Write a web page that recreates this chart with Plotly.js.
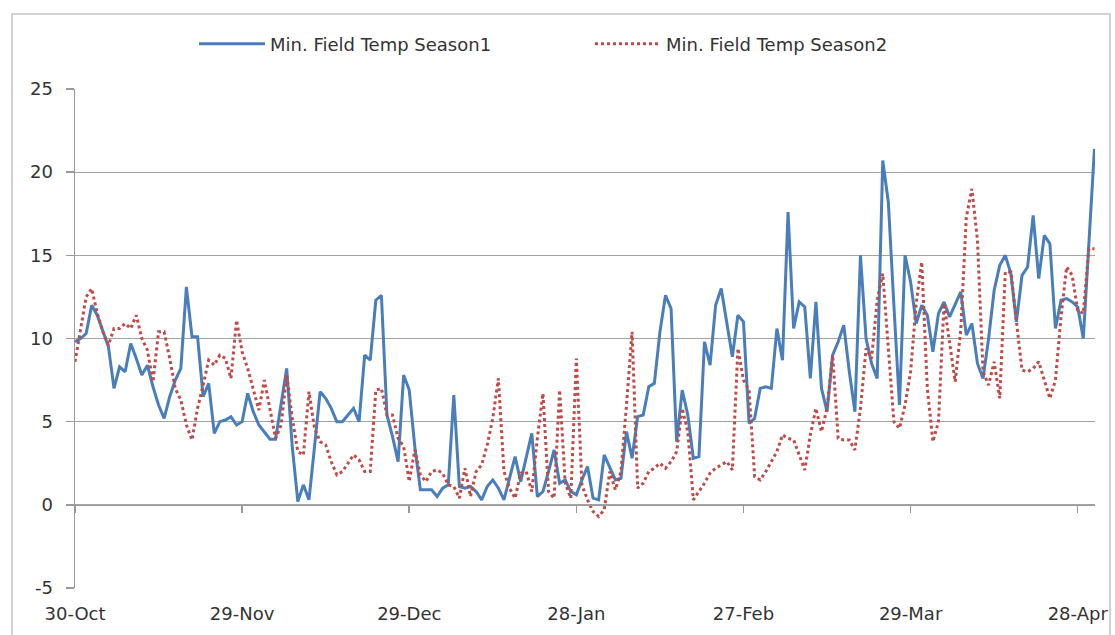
<!DOCTYPE html>
<html>
<head>
<meta charset="utf-8">
<script src="https://cdn.plot.ly/plotly-3.0.1.min.js"></script>
<style>
  html, body { margin: 0; padding: 0; background: #ffffff; }
  #chart { width: 1115px; height: 635px; }
</style>
</head>
<body>
<div id="chart"></div>
<script>
// Daily series, starting 30-Oct (day 0) through 1-May (day 183)
var startDate = '2010-10-30';

var season1Name = 'Min. Field Temp Season1';
var season2Name = 'Min. Field Temp Season2';

var season1 = [
  9.8, 10.0, 10.3, 12.0, 11.4, 10.5, 9.5, 7.0, 8.3, 8.0,
  9.7, 8.8, 7.8, 8.4, 7.1, 6.0, 5.2, 6.5, 7.5, 8.2,
  13.1, 10.1, 10.1, 6.5, 7.3, 4.3, 5.0, 5.1, 5.3, 4.8,
  5.0, 6.7, 5.6, 4.8, 4.4, 3.95, 3.95, 6.0, 8.2, 3.5,
  0.2, 1.2, 0.3, 3.5, 6.8, 6.4, 5.8, 5.0, 5.0, 5.4,
  5.8, 5.0, 9.0, 8.7, 12.3, 12.6, 5.4, 4.1, 2.6, 7.8,
  6.9, 3.5, 0.9, 0.9, 0.9, 0.5, 1.0, 1.2, 6.6, 1.1,
  1.0, 1.1, 0.8, 0.3, 1.1, 1.5, 1.0, 0.3, 1.6, 2.9,
  1.4, 2.8, 4.3, 0.5, 0.8, 2.0, 3.3, 1.3, 1.5, 0.8,
  0.6, 1.5, 2.3, 0.4, 0.3, 3.0, 2.2, 1.5, 1.6, 4.4,
  2.8, 5.3, 5.4, 7.1, 7.3, 10.4, 12.6, 11.8, 3.8, 6.9,
  5.4, 2.8, 2.9, 9.8, 8.4, 12.0, 13.0, 10.9, 8.9, 11.4,
  11.0, 4.9, 5.2, 7.0, 7.1, 7.0, 10.6, 8.7, 17.6, 10.6,
  12.2, 11.9, 7.6, 12.2, 7.0, 5.6, 9.0, 9.8, 10.8, 8.0,
  5.6, 15.0, 10.0, 8.5, 7.6, 20.7, 18.2, 12.0, 6.0, 15.0,
  13.4, 10.9, 12.0, 11.4, 9.2, 11.5, 12.2, 11.3, 12.0, 12.8,
  10.2, 10.9, 8.5, 7.6, 10.0, 12.9, 14.4, 15.0, 13.9, 11.0,
  13.8, 14.3, 17.4, 13.6, 16.2, 15.7, 10.6, 12.3, 12.4, 12.2,
  11.9, 10.0, 15.7, 21.4
];

var season2 = [
  8.6, 10.5, 12.5, 13.0, 11.5, 10.4, 9.6, 10.6, 10.6, 10.9,
  10.6, 11.4, 10.0, 9.3, 7.4, 10.4, 10.4, 8.8, 7.0, 6.3,
  4.8, 3.9, 5.8, 7.2, 8.7, 8.4, 9.0, 8.8, 7.6, 11.1,
  9.2, 8.2, 7.0, 5.7, 7.5, 5.8, 4.0, 4.8, 7.8, 5.2,
  3.2, 3.0, 6.8, 4.6, 3.8, 3.6, 2.6, 1.8, 2.0, 2.5,
  3.0, 2.7, 2.0, 2.0, 6.9, 7.0, 5.4, 5.4, 4.0, 3.5,
  1.4, 3.3, 1.8, 1.4, 2.0, 2.1, 1.9, 1.2, 1.1, 0.4,
  2.2, 0.5, 2.0, 2.4, 3.6, 5.2, 7.6, 2.0, 1.0, 0.4,
  1.9, 2.0, 0.8, 4.0, 6.7, 0.8, 0.4, 6.9, 1.3, 0.4,
  8.8, 1.2, 0.3, -0.4, -0.7, -0.3, 2.0, 0.9, 2.0, 6.0,
  10.4, 1.0, 1.3, 2.0, 2.2, 2.5, 2.2, 2.6, 3.2, 5.8,
  4.4, 0.3, 0.8, 1.3, 1.9, 2.2, 2.4, 2.6, 2.1, 9.4,
  7.5, 6.9, 1.7, 1.5, 2.0, 2.6, 3.2, 4.2, 4.0, 3.9,
  3.0, 2.1, 4.2, 5.8, 4.4, 5.8, 9.0, 4.0, 3.9, 3.9,
  3.3, 5.8, 9.4, 8.8, 12.3, 13.9, 9.4, 5.0, 4.6, 6.0,
  8.0, 12.1, 14.6, 7.0, 3.8, 5.0, 12.1, 9.7, 7.4, 10.5,
  17.3, 19.0, 15.9, 8.0, 7.2, 8.6, 6.4, 14.0, 14.0, 11.0,
  8.1, 8.0, 8.2, 8.6, 7.5, 6.4, 7.5, 11.3, 14.3, 13.8,
  11.7, 11.5, 15.4, 15.4
];

var yTickVals = [-5, 0, 5, 10, 15, 20, 25];
var xTickFormat = '%d-%b';

// build daily date labels for each value
function buildDates(start, n) {
  var out = [];
  var t0 = Date.parse(start + 'T00:00:00Z');
  for (var i = 0; i < n; i++) {
    var d = new Date(t0 + i * 86400000);
    out.push(d.toISOString().slice(0, 10));
  }
  return out;
}
var dates = buildDates(startDate, Math.max(season1.length, season2.length));

var DAY = 86400000;
var xRange = [startDate, new Date(Date.parse(startDate + 'T00:00:00Z') + 183.1 * DAY).toISOString()];

var fontFam = '"DejaVu Sans", "Open Sans", sans-serif';
var fs = 18;

var traces = [
  {
    x: dates.slice(0, season1.length), y: season1, type: 'scatter', mode: 'lines',
    name: season1Name,
    line: { color: '#4a7ebb', width: 3 }
  },
  {
    x: dates.slice(0, season2.length), y: season2, type: 'scatter', mode: 'lines',
    name: season2Name,
    line: { color: '#be4b48', width: 3, dash: 'dot' }
  },
  {
    // helper (invisible) trace so the zero-crossing category axis is drawn
    x: [dates[0]], y: [0], xaxis: 'x2', yaxis: 'y', type: 'scatter', mode: 'markers',
    marker: { opacity: 0 }, showlegend: false, hoverinfo: 'skip'
  }
];

var L = 75, R = 20, T = 89, B = 47;
var W = 1115, H = 635;
var pw = W - L - R, ph = H - T - B;
function px2paperX(px) { return (px - L) / pw; }
function px2paperY(py) { return (H - B - py) / ph; }

var layout = {
  width: W, height: H,
  margin: { l: L, r: R, t: T, b: B },
  paper_bgcolor: '#ffffff', plot_bgcolor: '#ffffff',
  font: { family: fontFam, color: '#333333', size: fs },
  showlegend: true,
  legend: {
    orientation: 'h',
    x: px2paperX(194), xanchor: 'left',
    y: px2paperY(44), yanchor: 'middle',
    font: { family: fontFam, size: fs, color: '#333333' },
    itemwidth: 66,
    entrywidth: 315, entrywidthmode: 'pixels',
    bgcolor: 'rgba(0,0,0,0)'
  },
  xaxis: {
    type: 'date', range: xRange,
    tick0: startDate, dtick: 30 * DAY, tickformat: xTickFormat,
    showgrid: false, zeroline: false, showline: false, ticks: '',
    ticklabelstandoff: 13,
    tickfont: { family: fontFam, size: fs, color: '#333333' }
  },
  xaxis2: {
    type: 'date', matches: 'x', overlaying: 'x', anchor: 'free', position: 5 / 30,
    tick0: startDate, dtick: 30 * DAY,
    showgrid: false, zeroline: false, showline: true, linecolor: '#9a9a9a', linewidth: 1.5,
    ticks: 'outside', ticklen: 7, tickcolor: '#9a9a9a', tickwidth: 1.5,
    showticklabels: false
  },
  yaxis: {
    range: [-5, 25], tickvals: yTickVals, ticktext: yTickVals.map(String),
    showgrid: true, gridcolor: '#a3a3a3', gridwidth: 1.3,
    zeroline: false, showline: true, linecolor: '#9a9a9a', linewidth: 1.5,
    ticks: 'outside', ticklen: 8, tickcolor: '#9a9a9a', tickwidth: 1.5,
    ticklabelstandoff: 9,
    tickfont: { family: fontFam, size: fs, color: '#333333' }
  },
  shapes: [
    {
      type: 'rect', xref: 'paper', yref: 'paper', layer: 'below',
      x0: px2paperX(12), x1: px2paperX(1110), y0: px2paperY(660), y1: px2paperY(14),
      line: { color: '#c4c4c4', width: 1.5 }, fillcolor: 'rgba(0,0,0,0)'
    }
  ]
};

Plotly.newPlot('chart', traces, layout, { displayModeBar: false, staticPlot: true });
</script>
</body>
</html>
